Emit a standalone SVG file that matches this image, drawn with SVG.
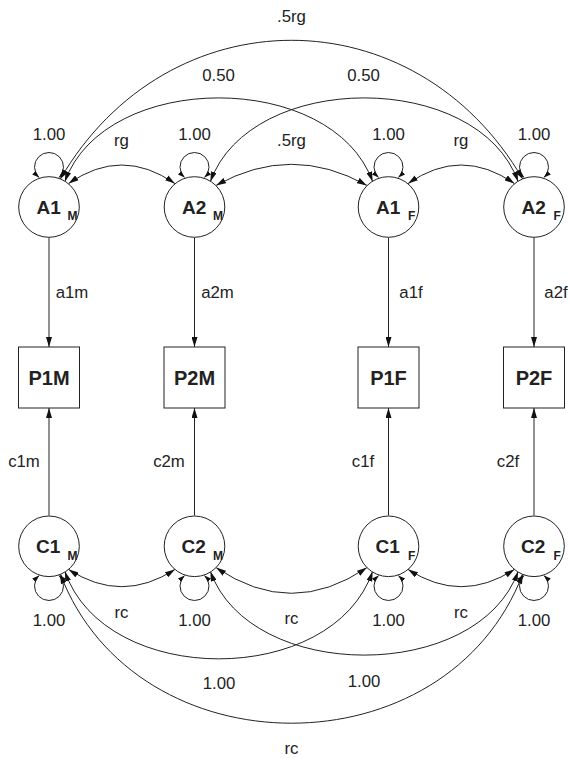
<svg xmlns="http://www.w3.org/2000/svg" width="569" height="759" viewBox="0 0 569 759">
<style>
.bg{fill:#fff}
.node{fill:#fff;stroke:#222;stroke-width:1}
.edge{fill:none;stroke:#222;stroke-width:1;marker-end:url(#ah)}
.dbl{fill:none;stroke:#222;stroke-width:1;marker-start:url(#ah);marker-end:url(#ah)}
.loop{fill:none;stroke:#222;stroke-width:1;marker-start:url(#ahs);marker-end:url(#ahs)}
.lbl{font-family:"Liberation Sans",Arial,sans-serif;font-size:16.8px;fill:#222}
.nm{font-family:"Liberation Sans",Arial,sans-serif;font-weight:bold;font-size:19px;fill:#222}
.sub{font-family:"Liberation Sans",Arial,sans-serif;font-weight:bold;font-size:12px;fill:#222}
.box{font-family:"Liberation Sans",Arial,sans-serif;font-weight:bold;font-size:20px;fill:#222;text-anchor:middle}
.c{text-anchor:middle}
</style>
<defs>
<marker id="ah" viewBox="0 0 10 6" markerWidth="10" markerHeight="6" refX="10" refY="3" orient="auto-start-reverse" markerUnits="userSpaceOnUse">
<path d="M0,0 L10,3 L0,6 z" fill="#111"/>
</marker>
<marker id="ahs" viewBox="0 0 7 5" markerWidth="7" markerHeight="5" refX="7" refY="2.5" orient="auto-start-reverse" markerUnits="userSpaceOnUse">
<path d="M0,0 L7,2.5 L0,5 z" fill="#111"/>
</marker>
</defs>
<rect class="bg" x="0" y="0" width="569" height="759"/>

<g id="connectors">
<path class="edge" d="M49,237.5 L49,347"/>
<path class="edge" d="M194.5,237.5 L194.5,347"/>
<path class="edge" d="M388.5,237.5 L388.5,347"/>
<path class="edge" d="M534,237.5 L534,347"/>
<path class="edge" d="M49,515.5 L49,408"/>
<path class="edge" d="M194.5,515.5 L194.5,408"/>
<path class="edge" d="M388.5,515.5 L388.5,408"/>
<path class="edge" d="M534,515.5 L534,408"/>
<path class="loop" d="M39,177.5 A14.5,14.5 0 1 1 59,177.5"/>
<path class="loop" d="M184.5,177.5 A14.5,14.5 0 1 1 204.5,177.5"/>
<path class="loop" d="M378.5,177.5 A14.5,14.5 0 1 1 398.5,177.5"/>
<path class="loop" d="M524,177.5 A14.5,14.5 0 1 1 544,177.5"/>
<path class="loop" d="M39,575.5 A14.5,14.5 0 1 0 59,575.5"/>
<path class="loop" d="M184.5,575.5 A14.5,14.5 0 1 0 204.5,575.5"/>
<path class="loop" d="M378.5,575.5 A14.5,14.5 0 1 0 398.5,575.5"/>
<path class="loop" d="M524,575.5 A14.5,14.5 0 1 0 544,575.5"/>
<path class="dbl" d="M68.6,183.6 Q121.75,146.4 174.9,183.6"/>
<path class="dbl" d="M216.1,185.4 Q291.5,143.2 366.9,185.4"/>
<path class="dbl" d="M408.1,183.6 Q461.25,146.4 514.4,183.6"/>
<path class="dbl" d="M64.9,181.6 C104.9,70 332.6,70 372.6,181.6"/>
<path class="dbl" d="M210.4,181.6 C250.4,70 478.1,70 518.1,181.6"/>
<path class="dbl" d="M60.2,179.2 C168,-6 415,-6 522.8,179.2"/>
<path class="dbl" d="M68.6,569.4 Q121.75,604 174.9,569.4"/>
<path class="dbl" d="M216.1,567.6 Q291.5,619 366.9,567.6"/>
<path class="dbl" d="M408.1,569.4 Q461.25,604 514.4,569.4"/>
<path class="dbl" d="M64.9,571.4 C104.9,688 332.6,688 372.6,571.4"/>
<path class="dbl" d="M210.4,571.4 C250.4,683 478.1,683 518.1,571.4"/>
<path class="dbl" d="M60.2,573.8 C136,773 447,773 522.8,573.8"/>
</g>

<g id="edge-labels">
<text class="lbl c" x="291.5" y="22">.5rg</text>
<text class="lbl c" x="218.5" y="81">0.50</text>
<text class="lbl c" x="363.5" y="81">0.50</text>
<text class="lbl c" x="49" y="140">1.00</text>
<text class="lbl c" x="194.5" y="140">1.00</text>
<text class="lbl c" x="388.5" y="140">1.00</text>
<text class="lbl c" x="534" y="140">1.00</text>
<text class="lbl c" x="121.5" y="145.5">rg</text>
<text class="lbl c" x="291.5" y="145.5">.5rg</text>
<text class="lbl c" x="461" y="145.5">rg</text>
<text class="lbl c" x="72" y="298">a1m</text>
<text class="lbl c" x="217.5" y="298">a2m</text>
<text class="lbl c" x="411" y="298">a1f</text>
<text class="lbl c" x="556" y="298">a2f</text>
<text class="lbl c" x="24" y="467">c1m</text>
<text class="lbl c" x="169" y="467">c2m</text>
<text class="lbl c" x="363" y="467">c1f</text>
<text class="lbl c" x="508" y="467">c2f</text>
<text class="lbl c" x="121.5" y="618">rc</text>
<text class="lbl c" x="291.5" y="624">rc</text>
<text class="lbl c" x="461" y="618">rc</text>
<text class="lbl c" x="49" y="625.5">1.00</text>
<text class="lbl c" x="194.5" y="625.5">1.00</text>
<text class="lbl c" x="388.5" y="625.5">1.00</text>
<text class="lbl c" x="534" y="625.5">1.00</text>
<text class="lbl c" x="219" y="689">1.00</text>
<text class="lbl c" x="364" y="686.5">1.00</text>
<text class="lbl c" x="291.5" y="754">rc</text>
</g>

<g id="A1M"><circle class="node" cx="49" cy="207" r="30.3"/><text class="nm" x="36.5" y="213.5">A1</text><text class="sub" x="67.5" y="220">M</text></g>
<g id="A2M"><circle class="node" cx="194.5" cy="207" r="30.3"/><text class="nm" x="182" y="213.5">A2</text><text class="sub" x="213" y="220">M</text></g>
<g id="A1F"><circle class="node" cx="388.5" cy="207" r="30.3"/><text class="nm" x="376" y="213.5">A1</text><text class="sub" x="408" y="220">F</text></g>
<g id="A2F"><circle class="node" cx="534" cy="207" r="30.3"/><text class="nm" x="521.5" y="213.5">A2</text><text class="sub" x="553.5" y="220">F</text></g>

<g id="P1M"><rect class="node" x="18.5" y="347" width="61" height="61"/><text class="box" x="49" y="384.5">P1M</text></g>
<g id="P2M"><rect class="node" x="164" y="347" width="61" height="61"/><text class="box" x="194.5" y="384.5">P2M</text></g>
<g id="P1F"><rect class="node" x="358" y="347" width="61" height="61"/><text class="box" x="388.5" y="384.5">P1F</text></g>
<g id="P2F"><rect class="node" x="503.5" y="347" width="61" height="61"/><text class="box" x="534" y="384.5">P2F</text></g>

<g id="C1M"><circle class="node" cx="49" cy="546.3" r="30.3"/><text class="nm" x="36" y="553.3">C1</text><text class="sub" x="67.5" y="559.5">M</text></g>
<g id="C2M"><circle class="node" cx="194.5" cy="546.3" r="30.3"/><text class="nm" x="181.5" y="553.3">C2</text><text class="sub" x="213" y="559.5">M</text></g>
<g id="C1F"><circle class="node" cx="388.5" cy="546.3" r="30.3"/><text class="nm" x="375.5" y="553.3">C1</text><text class="sub" x="408" y="559.5">F</text></g>
<g id="C2F"><circle class="node" cx="534" cy="546.3" r="30.3"/><text class="nm" x="521" y="553.3">C2</text><text class="sub" x="553.5" y="559.5">F</text></g>
</svg>
